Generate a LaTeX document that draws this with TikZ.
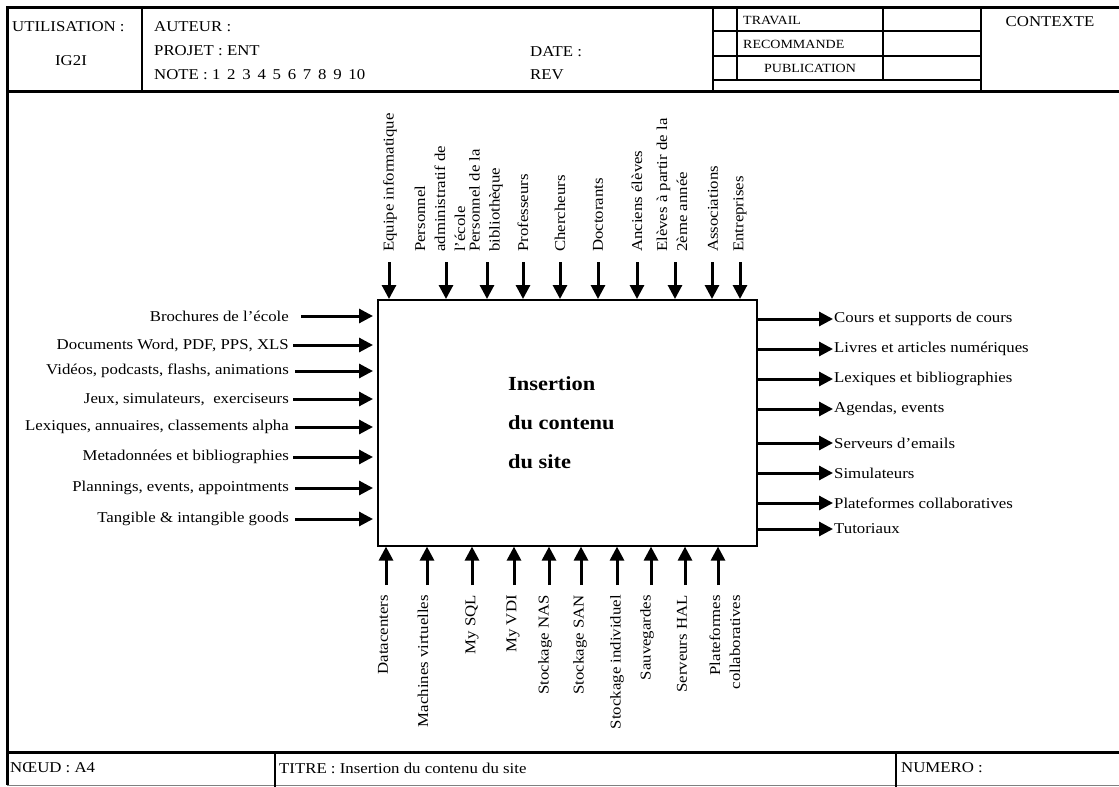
\documentclass[tikz,border=0pt]{standalone}
\usepackage{fontspec}
\setmainfont{Liberation Serif}[FakeStretch=1.12]
\usetikzlibrary{arrows.meta}
\begin{document}
\begin{tikzpicture}[x=1pt,y=-1pt,
  frame/.style={line width=3pt},
  rule/.style={line width=2.4pt},
  txt/.style={font=\fontsize{15}{20}\selectfont, inner sep=0pt},
  small/.style={font=\fontsize{12.5}{15}\selectfont, inner sep=0pt},
  flow/.style={line width=3pt, -{Triangle[length=14pt,width=14pt]}},
  up/.style={txt, rotate=90, anchor=west, align=left},
  down/.style={txt, rotate=90, anchor=east, align=right},
  actbox/.style={draw, line width=1.6pt, minimum width=379pt, minimum height=246pt, inner sep=0pt},
  titletxt/.style={font=\fontsize{20}{39}\selectfont\bfseries, inner sep=0pt, align=left},
]
\useasboundingbox (0,0) rectangle (1119,787);

% outer frame, header band and footer band
\draw[frame] (1119,7) -- (7,7) -- (7,785);
\draw[frame] (7,91) -- (1119,91);
\draw[frame] (7,752) -- (1119,752);
\draw[line width=1pt, gray] (7,785) -- (1119,785);

% header cells
\draw[rule] (142,7) -- (142,91);
\draw[rule] (713,7) -- (713,91);
\draw[rule] (737,7) -- (737,80);
\draw[rule] (883,7) -- (883,80);
\draw[rule] (981,7) -- (981,91);
\draw[rule] (713,31) -- (981,31);
\draw[rule] (713,56) -- (981,56);
\draw[rule] (713,80) -- (981,80);

% footer cells
\draw[rule] (275,752) -- (275,787);
\draw[rule] (896,752) -- (896,787);

% header texts
\node[txt, anchor=west] (util) at (12,27) {UTILISATION :};
\node[txt] (ig2i) at (71,61) {IG2I};
\node[txt, anchor=west] (auteur) at (154,27) {AUTEUR :};
\node[txt, anchor=west] (projet) at (154,51) {PROJET : ENT};
\node[txt, anchor=west] (note) at (154,75) {NOTE : 1\hspace{0.45em}2\hspace{0.45em}3\hspace{0.45em}4\hspace{0.45em}5\hspace{0.45em}6\hspace{0.45em}7\hspace{0.45em}8\hspace{0.45em}9\hspace{0.45em}10};
\node[txt, anchor=west] (date) at (530,52) {DATE :};
\node[txt, anchor=west] (rev) at (530,75) {REV};
\node[small, anchor=west] (travail) at (743,20) {TRAVAIL};
\node[small, anchor=west] (recom) at (743,44) {RECOMMANDE};
\node[small] (publi) at (810,68) {PUBLICATION};
\node[txt] (ctx) at (1050,22) {CONTEXTE};

% footer texts
\node[txt, anchor=west] (noeud) at (10,768) {NŒUD : A4};
\node[txt, anchor=west] (titre) at (279,768) {TITRE : Insertion du contenu du site};
\node[txt, anchor=west] (numero) at (901,768) {NUMERO :};

% activity box
\node[actbox, anchor=north west] (box) at (377,299) {};
\node[titletxt, anchor=west] (title) at (508,423) {Insertion\\du contenu\\du site};

% inputs (left)
\foreach \y/\tx/\t [count=\i] in {
  316/301/{Brochures de l’école},
  345/293/{Documents Word, PDF, PPS, XLS},
  371/295/{Vidéos, podcasts, flashs, animations},
  399/293/{Jeux, simulateurs,\ \ exerciseurs},
  427/295/{Lexiques, annuaires, classements alpha},
  457/293/{Metadonnées et bibliographies},
  488/295/{Plannings, events, appointments},
  519/295/{Tangible \& intangible goods}} {
  \node[txt, anchor=east] (in\i) at (289,\y) {\t};
  \coordinate (int\i) at (\tx,\y);
  \draw[flow, shorten >=4pt] (int\i) -- (int\i -| box.west);
}

% outputs (right)
\foreach \y/\t [count=\i] in {
  319/{Cours et supports de cours},
  349/{Livres et articles numériques},
  379/{Lexiques et bibliographies},
  409/{Agendas, events},
  443/{Serveurs d’emails},
  473/{Simulateurs},
  503/{Plateformes collaboratives},
  529/{Tutoriaux}} {
  \node[txt, anchor=west] (out\i) at (834,\y) {\t};
  \draw[flow, shorten >=1pt] (out\i.west -| box.east) -- (out\i.west);
}

% controls (top)
\foreach \lx/\ax/\t [count=\i] in {
  390/389/{Equipe informatique},
  440/446/{Personnel\\administratif de\\l’école},
  486/487/{Personnel de la\\bibliothèque},
  523/523/{Professeurs},
  560/560/{Chercheurs},
  598/598/{Doctorants},
  637/637/{Anciens élèves},
  672/675/{Elèves à partir de la\\2ème année},
  713/712/{Associations},
  740/740/{Entreprises}} {
  \node[up] (ctl\i) at (\lx,252) {\t};
  \coordinate (ctlt\i) at (\ax,262);
  \draw[flow] (ctlt\i) -- (ctlt\i |- box.north);
}

% mechanisms (bottom)
\foreach \lx/\ax/\t [count=\i] in {
  383/386/{Datacenters},
  423/427/{Machines virtuelles},
  472/472/{My SQL},
  513/514/{My VDI},
  545/549/{Stockage NAS},
  580/581/{Stockage SAN},
  617/617/{Stockage individuel},
  647/651/{Sauvegardes},
  682/685/{Serveurs HAL},
  725/718/{Plateformes\\collaboratives}} {
  \node[down] (mec\i) at (\lx,595) {\t};
  \coordinate (mect\i) at (\ax,585);
  \draw[flow] (mect\i) -- (mect\i |- box.south);
}
\end{tikzpicture}
\end{document}
